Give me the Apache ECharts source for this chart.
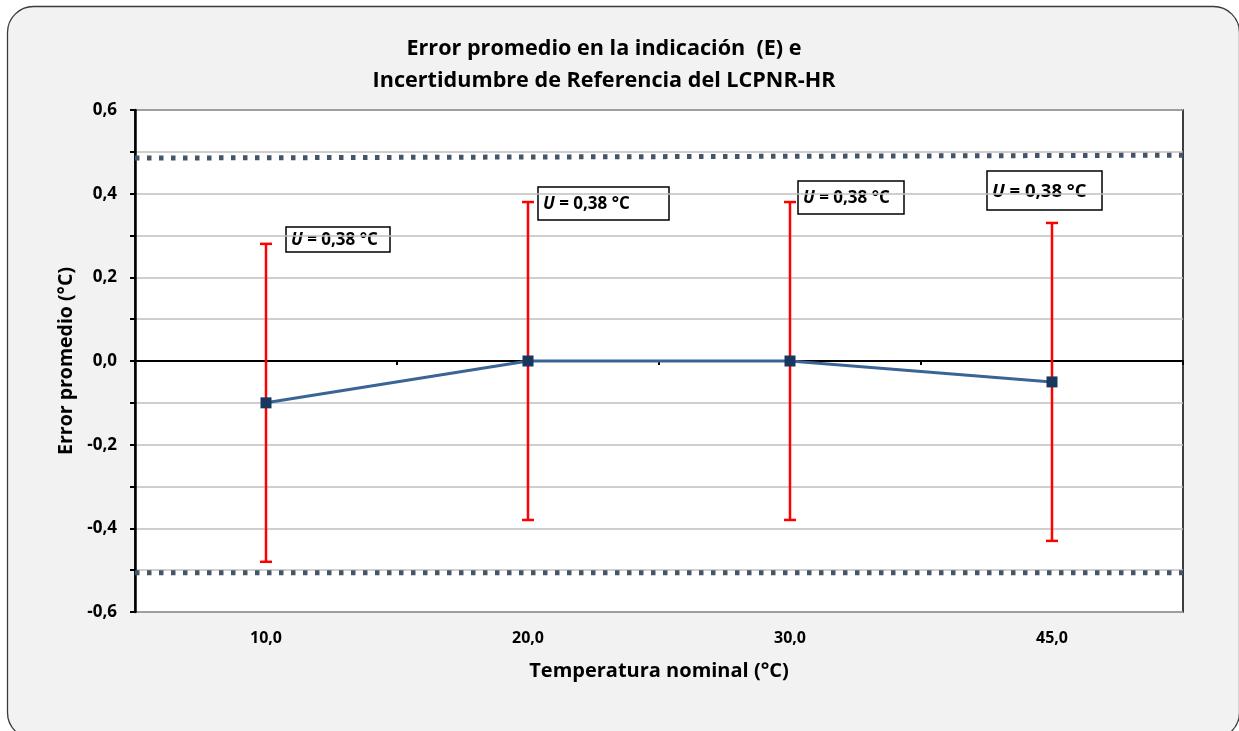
<!DOCTYPE html>
<html><head><meta charset="utf-8">
<script src="https://cdn.jsdelivr.net/npm/echarts@6/dist/echarts.min.js"></script>
<style>html,body{margin:0;padding:0;background:#fff}#c{width:1239px;height:731px}</style>
</head><body><div id="c"></div>
<script>
// ---- data ----
const categories = ['10,0', '20,0', '30,0', '45,0'];
const errorMean = [-0.10, 0.00, 0.00, -0.05];
const uLower = [-0.48, -0.38, -0.38, -0.43];
const uUpper = [0.28, 0.38, 0.38, 0.33];
const upperLimit = [0.485, 0.492];
const lowerLimit = [-0.506, -0.506];
const uText = 'U = 0,38 °C';
const titleLines = ['Error promedio en la indicación  (E) e', 'Incertidumbre de Referencia del LCPNR-HR'];
const xName = 'Temperatura nominal (°C)';
const yName = 'Error promedio (°C)';

const FONT = "'Open Sans', sans-serif";
const chart = echarts.init(document.getElementById('c'), null, {renderer: 'canvas'});

function uBox(x, y, w, h, size) {
  const parts = uText.split(' ');
  return {
    type: 'group', z: 100,
    children: [
      {type: 'rect', shape: {x: x, y: y, width: w, height: h}, style: {fill: '#fff', stroke: '#000', lineWidth: 1.5}},
      {type: 'text', x: x + 5, y: y + h / 2 + 1, style: {
        text: '{i|' + parts[0] + '}{b| ' + parts.slice(1).join(' ') + '}',
        rich: {
          i: {fontFamily: FONT, fontWeight: 'bold', fontStyle: 'italic', fontSize: size, fill: '#000'},
          b: {fontFamily: FONT, fontWeight: 'bold', fontSize: size, fill: '#000'}
        },
        verticalAlign: 'middle', align: 'left'
      }}
    ]
  };
}

const option = {
  backgroundColor: '#fff',
  animation: false,
  graphic: [
    {type: 'rect', z: -100, shape: {x: 7.5, y: 6.5, width: 1232, height: 732, r: 26},
     style: {fill: '#f2f2f2', stroke: '#3a3a3a', lineWidth: 1.3}},
    {type: 'text', z: 100, x: 604, y: 33, style: {
      text: titleLines.join('\n'), align: 'center', verticalAlign: 'top',
      fontFamily: FONT, fontWeight: 'bold', fontSize: 21.6, lineHeight: 32, fill: '#000'}},
    uBox(286, 227, 104, 25, 17),
    uBox(538, 187, 131, 33, 17),
    uBox(798, 181, 106, 33, 17),
    uBox(987, 171, 115, 39, 18.5)
  ],
  grid: {left: 135, right: 56, top: 110, bottom: 119, show: true, backgroundColor: '#fff', borderColor: '#000', borderWidth: 1.5},
  xAxis: [
    {type: 'category', data: categories, position: 'bottom', boundaryGap: true,
     axisLine: {show: false, onZero: false}, axisTick: {show: false}, splitLine: {show: false},
     axisLabel: {color: '#000', fontFamily: FONT, fontWeight: 'bold', fontSize: 16, margin: 18},
     name: xName, nameLocation: 'middle', nameGap: 49,
     nameTextStyle: {color: '#000', fontFamily: FONT, fontWeight: 'bold', fontSize: 20}},
    {type: 'category', data: categories, position: 'bottom', boundaryGap: true,
     axisLine: {show: true, onZero: true, lineStyle: {color: '#000', width: 2}},
     axisTick: {show: true, inside: false, length: 4, lineStyle: {color: '#000', width: 2}},
     axisLabel: {show: false}, splitLine: {show: false}},
    {type: 'value', min: 0, max: 1, show: false, axisLine: {onZero: false}}
  ],
  yAxis: [{
    type: 'value', min: -0.6, max: 0.6, interval: 0.1,
    axisLine: {show: true, onZero: false, lineStyle: {color: '#000', width: 2.5}},
    axisTick: {show: true, inside: false, length: 5, lineStyle: {color: '#000', width: 2}},
    splitLine: {show: true, lineStyle: {color: '#bfbfbf', width: 1.5}},
    axisLabel: {color: '#000', fontFamily: FONT, fontWeight: 'bold', fontSize: 17, margin: 18,
      formatter: function (v) {
        const k = Math.round(v * 10);
        if (k % 2 !== 0) return '';
        return (k / 10).toFixed(1).replace('.', ',');
      }},
    name: yName, nameLocation: 'middle', nameRotate: 90, nameGap: 57,
    nameTextStyle: {color: '#000', fontFamily: FONT, fontWeight: 'bold', fontSize: 19.5}
  }],
  series: [
    {type: 'line', xAxisIndex: 2, yAxisIndex: 0, data: [[0, upperLimit[0]], [1, upperLimit[1]]],
     showSymbol: false, silent: true, z: 3, clip: false,
     lineStyle: {color: '#44546a', width: 5, type: [4.5, 7.5], cap: 'butt'}},
    {type: 'line', xAxisIndex: 2, yAxisIndex: 0, data: [[0, lowerLimit[0]], [1, lowerLimit[1]]],
     showSymbol: false, silent: true, z: 3, clip: false,
     lineStyle: {color: '#44546a', width: 5, type: [4.5, 7.5], cap: 'butt'}},
    {type: 'custom', xAxisIndex: 0, yAxisIndex: 0, z: 4,
     data: categories.map(function (c, i) { return [i, uLower[i], uUpper[i]]; }),
     renderItem: function (params, api) {
       const lo = api.coord([api.value(0), api.value(1)]);
       const hi = api.coord([api.value(0), api.value(2)]);
       const cw = 6;
       const st = {stroke: '#ff0000', lineWidth: 2.5};
       return {type: 'group', children: [
         {type: 'line', shape: {x1: lo[0], y1: lo[1], x2: hi[0], y2: hi[1]}, style: st},
         {type: 'line', shape: {x1: lo[0] - cw, y1: lo[1], x2: lo[0] + cw, y2: lo[1]}, style: st},
         {type: 'line', shape: {x1: hi[0] - cw, y1: hi[1], x2: hi[0] + cw, y2: hi[1]}, style: st}
       ]};
     }},
    {type: 'line', xAxisIndex: 0, yAxisIndex: 0, data: errorMean, z: 5,
     symbol: 'rect', symbolSize: 11, itemStyle: {color: '#17375e'},
     lineStyle: {color: '#3a6496', width: 3}}
  ]
};
chart.setOption(option);
</script></body></html>
